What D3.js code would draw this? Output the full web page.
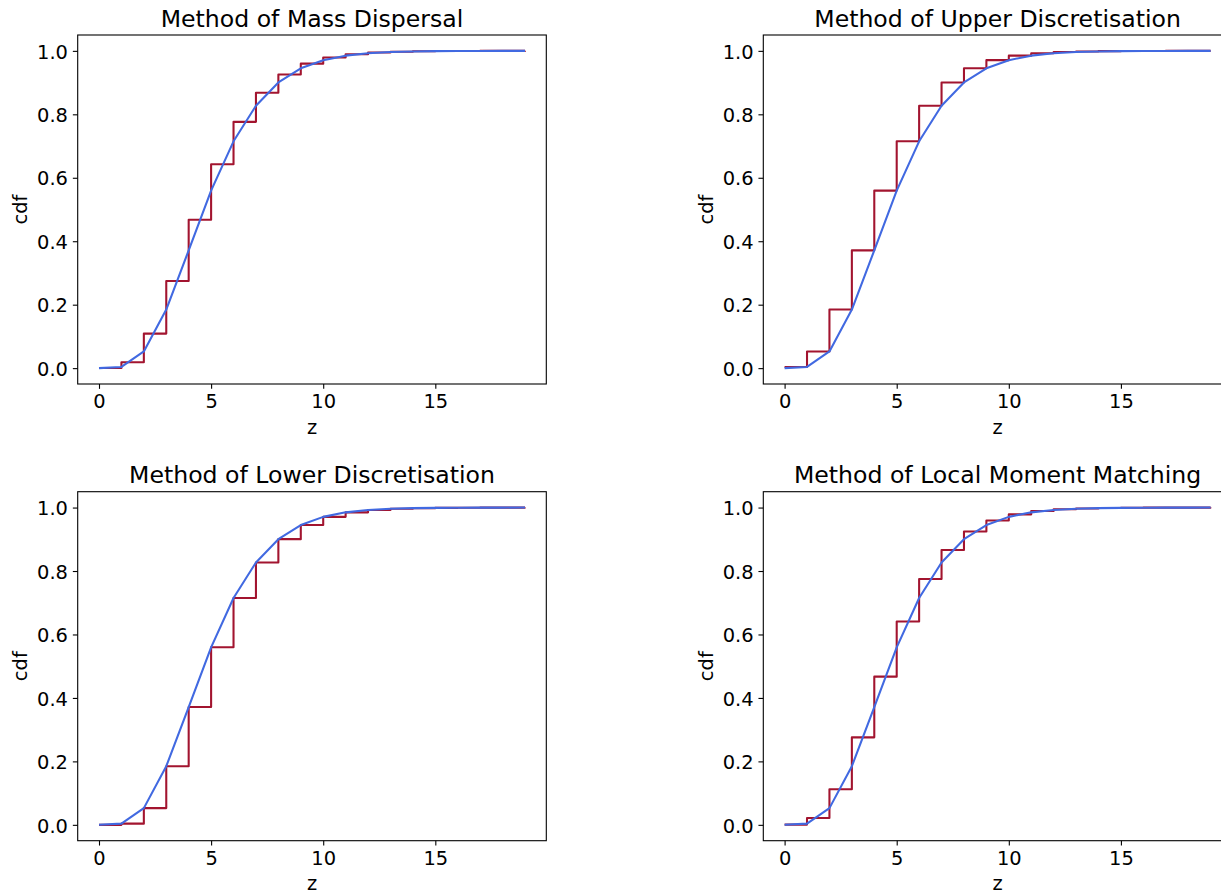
<!DOCTYPE html>
<html>
<head>
<meta charset="utf-8">
<script src="https://cdn.jsdelivr.net/npm/d3@7"></script>
<style>
  body { margin: 0; background: #fff; }
  svg text { font-family: "DejaVu Sans", sans-serif; fill: #000; }
</style>
</head>
<body>
<div id="chart"></div>
<script>
// z grid and cdf values
const zValues = [0, 1, 2, 3, 4, 5, 6, 7, 8, 9, 10, 11, 12, 13, 14, 15, 16, 17, 18, 19];

// continuous cdf (blue line)
const trueCdf = [0, 0.0037, 0.0527, 0.1847, 0.3712, 0.5595, 0.7149, 0.8270, 0.9004, 0.9450,
    0.9707, 0.9849, 0.9924, 0.9963, 0.9982, 0.9991, 0.9996, 0.9998, 0.9999, 1.0];

// discretised cdfs (red steps)
const massDispersal = [0.0002, 0.0186, 0.1088, 0.2746, 0.4679, 0.6425, 0.7763, 0.8679, 0.9257, 0.9597,
    0.9789, 0.9893, 0.9947, 0.9974, 0.9988, 0.9994, 0.9997, 0.9999, 0.9999, 1.0];
const upperDisc = [0.0037, 0.0527, 0.1847, 0.3712, 0.5595, 0.7149, 0.8270, 0.9004, 0.9450, 0.9707,
    0.9849, 0.9924, 0.9963, 0.9982, 0.9991, 0.9996, 0.9998, 0.9999, 1.0, 1.0];
const lowerDisc = [0, 0.0037, 0.0527, 0.1847, 0.3712, 0.5595, 0.7149, 0.8270, 0.9004, 0.9450,
    0.9707, 0.9849, 0.9924, 0.9963, 0.9982, 0.9991, 0.9996, 0.9998, 0.9999, 1.0];
const momentMatch = [0.0007, 0.0218, 0.1121, 0.2757, 0.4671, 0.6407, 0.7746, 0.8665, 0.9247, 0.9591,
    0.9786, 0.9890, 0.9945, 0.9973, 0.9987, 0.9994, 0.9997, 0.9999, 0.9999, 1.0];

const titles = ["Method of Mass Dispersal", "Method of Upper Discretisation",
    "Method of Lower Discretisation", "Method of Local Moment Matching"];
const stepSeries = [massDispersal, upperDisc, lowerDisc, momentMatch];

const xTicks = [0, 5, 10, 15];
const yTicks = [0, 0.2, 0.4, 0.6, 0.8, 1.0];

// layout (matplotlib-like 2x2 grid)
const W = 1221, H = 890;
const panelW = 468.6, panelH = 349;
const lefts = [77.7, 763.3], tops = [35, 491.7];
const fs = 19.44, titleFs = 23.6;
const tick = 4.86, pad = 4.86;

const svg = d3.select("#chart").append("svg")
    .attr("width", W)
    .attr("height", H);

svg.append("rect").attr("width", W).attr("height", H).attr("fill", "#fff");

titles.forEach(function(title, i) {
    const left = lefts[i % 2], top = tops[Math.floor(i / 2)];

    const x = d3.scaleLinear().domain([-0.95, 19.95]).range([0, panelW]);
    const y = d3.scaleLinear().domain([-0.05, 1.05]).range([panelH, 0]);

    const g = svg.append("g").attr("transform", "translate(" + left + "," + top + ")");

    // red step (post)
    const step = d3.line()
        .x(function(d, j) { return x(zValues[j]); })
        .y(function(d) { return y(d); })
        .curve(d3.curveStepAfter);

    g.append("path")
        .datum(stepSeries[i])
        .attr("d", step)
        .attr("fill", "none")
        .attr("stroke", "#A2142F")
        .attr("stroke-width", 2.08)
        .attr("stroke-linejoin", "round");

    // blue line
    const line = d3.line()
        .x(function(d, j) { return x(zValues[j]); })
        .y(function(d) { return y(d); });

    g.append("path")
        .datum(trueCdf)
        .attr("d", line)
        .attr("fill", "none")
        .attr("stroke", "#4169E1")
        .attr("stroke-width", 2.08)
        .attr("stroke-linejoin", "round");

    // axes
    const xa = g.append("g")
        .attr("transform", "translate(0," + panelH + ")")
        .call(d3.axisBottom(x).tickValues(xTicks).tickFormat(d3.format("d"))
            .tickSize(tick).tickPadding(pad));
    xa.select(".domain").remove();
    xa.selectAll("line").attr("stroke", "#000").attr("stroke-width", 1.1);
    xa.selectAll("text").attr("dy", "0.76em").style("font-size", fs + "px")
        .style("font-family", "'DejaVu Sans', sans-serif").attr("fill", "#000");

    const ya = g.append("g")
        .call(d3.axisLeft(y).tickValues(yTicks).tickFormat(d3.format(".1f"))
            .tickSize(tick).tickPadding(pad));
    ya.select(".domain").remove();
    ya.selectAll("line").attr("stroke", "#000").attr("stroke-width", 1.1);
    ya.selectAll("text").attr("dy", "0.37em").style("font-size", fs + "px")
        .style("font-family", "'DejaVu Sans', sans-serif").attr("fill", "#000");

    // spines
    g.append("rect")
        .attr("width", panelW)
        .attr("height", panelH)
        .attr("fill", "none")
        .attr("stroke", "#000")
        .attr("stroke-width", 1.1);

    // title
    g.append("text")
        .attr("x", panelW / 2)
        .attr("y", -8.33)
        .attr("text-anchor", "middle")
        .style("font-size", titleFs + "px")
        .text(title);

    // axis labels
    g.append("text")
        .attr("x", panelW / 2)
        .attr("y", panelH + 49.5)
        .attr("text-anchor", "middle")
        .style("font-size", fs + "px")
        .text("z");

    g.append("text")
        .attr("transform", "translate(-50.8," + (panelH / 2) + ") rotate(-90)")
        .attr("text-anchor", "middle")
        .style("font-size", fs + "px")
        .text("cdf");
});
</script>
</body>
</html>
